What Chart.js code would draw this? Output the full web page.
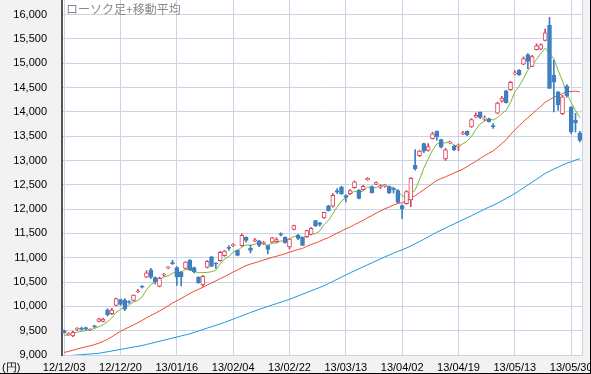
<!DOCTYPE html>
<html>
<head>
<meta charset="utf-8">
<script src="https://cdn.jsdelivr.net/npm/chart.js@4.4.1/dist/chart.umd.min.js"></script>
<style>
    body { margin: 0; background: #fff; }
    #wrap { position: relative; width: 591px; height: 374px; }
    #title { position: absolute; left: 66px; top: 0px; font: 12px "Noto Sans CJK JP"; color: #888; }
    #unit { position: absolute; left: 2px; top: 360px; font: 11px "Liberation Sans"; color: #000; }
</style>
</head>
<body>
<div id="wrap">
    <canvas id="chart" width="591" height="374"></canvas>
    <div id="title">ローソク足+移動平均</div>
    <div id="unit">(円)</div>
</div>
<script>
// trading days, Dec 2012 - Jun 2013
const dec = ['03','04','05','06','07','10','11','12','13','14','17','18','19','20','21','25','26','27','28'];
const jan = ['04','07','08','09','10','11','15','16','17','18','21','22','23','24','25','28','29','30','31'];
const feb = ['01','04','05','06','07','08','12','13','14','15','18','19','20','21','22','25','26','27','28'];
const mar = ['01','04','05','06','07','08','11','12','13','14','15','18','19','21','22','25','26','27','28','29'];
const apr = ['01','02','03','04','05','08','09','10','11','12','15','16','17','18','19','22','23','24','25','26','30'];
const may = ['01','02','07','08','09','10','13','14','15','16','17','20','21','22','23','24','27','28','29','30','31'];
const jun = ['03'];

const tickDates = ['12/12/03', '12/12/20', '13/01/16', '13/02/04', '13/02/22',
    '13/03/13', '13/04/02', '13/04/19', '13/05/13', '13/05/30'];
const yTicks = [9000, 9500, 10000, 10500, 11000, 11500, 12000, 12500,
    13000, 13500, 14000, 14500, 15000, 15500, 16000];

const opens = [
    9500, 9420, 9390, 9530, 9555, 9565, 9515, 9595, 9690, 9690,
    9930, 9850, 10020, 10140, 10130, 10100, 10120, 10300, 10410, 10600,
    10750, 10590, 10410, 10640, 10790, 10890, 10800, 10700, 10780, 10950,
    10800, 10600, 10440, 10800, 11020, 10890, 10940, 11045, 11210, 11250,
    11150, 11250, 11420, 11200, 11340, 11350, 11295, 11250, 11320, 11330,
    11490, 11420, 11220, 11580, 11460, 11420, 11435, 11480, 11765, 11720,
    11820, 12070, 12060, 12380, 12460, 12280, 12315, 12440, 12385, 12400,
    12600, 12465, 12510, 12450, 12470, 12465, 12420, 12383, 12075, 12110,
    12190, 12900, 13100, 13345, 13205, 13450, 13600, 13430, 13030, 13360,
    13295, 13300, 13550, 13600, 13690, 13890, 13990, 13850, 13850, 13720,
    13975, 14220, 14430, 14455, 14780, 14855, 14980, 15180, 14935, 15280,
    15290, 15470, 15780, 14750, 14410, 13960, 14525, 14100, 13825, 13570
];
const highs = [
    9510, 9460, 9490, 9565, 9575, 9575, 9540, 9610, 9760, 9760,
    9950, 9960, 10170, 10150, 10160, 10120, 10240, 10350, 10430, 10734,
    10780, 10610, 10600, 10680, 10820, 10950, 10820, 10720, 10920, 10960,
    10810, 10610, 10640, 10940, 11030, 10900, 11130, 11150, 11250, 11290,
    11160, 11490, 11430, 11260, 11400, 11360, 11340, 11260, 11420, 11410,
    11510, 11430, 11390, 11670, 11480, 11430, 11570, 11620, 11770, 11730,
    11940, 12080, 12320, 12420, 12470, 12300, 12400, 12580, 12400, 12490,
    12650, 12480, 12560, 12500, 12510, 12480, 12440, 12400, 12090, 12380,
    12650, 13225, 13210, 13360, 13350, 13580, 13610, 13440, 13250, 13400,
    13310, 13340, 13600, 13610, 13860, 13980, 14000, 13920, 13870, 13760,
    14200, 14320, 14440, 14630, 14850, 14870, 15130, 15200, 15160, 15400,
    15400, 15700, 15942, 15060, 14420, 14340, 14560, 14110, 13970, 13600
];
const lows = [
    9450, 9406, 9375, 9505, 9510, 9505, 9500, 9560, 9680, 9680,
    9800, 9830, 10010, 10020, 9910, 10060, 10110, 10280, 10380, 10590,
    10570, 10460, 10400, 10620, 10770, 10860, 10430, 10420, 10770, 10740,
    10690, 10470, 10410, 10790, 10820, 10780, 10930, 11030, 11150, 11230,
    11040, 11240, 11320, 11100, 11330, 11230, 11270, 11085, 11310, 11320,
    11450, 11300, 11180, 11570, 11370, 11250, 11420, 11470, 11640, 11650,
    11810, 11960, 12040, 12320, 12300, 12150, 12300, 12430, 12210, 12390,
    12590, 12330, 12500, 12420, 12450, 12320, 12330, 12130, 11805, 12100,
    12050, 12800, 13080, 13160, 13190, 13440, 13420, 13260, 13000, 13340,
    13200, 13200, 13530, 13510, 13680, 13880, 13860, 13820, 13790, 13660,
    13960, 14200, 14180, 14440, 14760, 14750, 14970, 14890, 14930, 15270,
    15280, 15460, 14483, 14000, 14030, 13940, 14300, 13550, 13585, 13380
];
const closes = [
    9458, 9432, 9468, 9545, 9527, 9533, 9525, 9581, 9743, 9737,
    9828, 9923, 10160, 10039, 9940, 10080, 10230, 10322, 10395, 10688,
    10599, 10508, 10578, 10652, 10801, 10879, 10600, 10609, 10913, 10747,
    10709, 10486, 10620, 10926, 10824, 10866, 11113, 11138, 11191, 11260,
    11046, 11463, 11357, 11153, 11369, 11251, 11307, 11173, 11407, 11372,
    11468, 11309, 11385, 11662, 11398, 11253, 11559, 11606, 11652, 11683,
    11932, 11968, 12283, 12349, 12314, 12239, 12381, 12560, 12220, 12468,
    12635, 12338, 12546, 12471, 12493, 12336, 12397, 12135, 12003, 12362,
    12634, 12833, 13192, 13192, 13288, 13549, 13485, 13275, 13221, 13382,
    13220, 13316, 13568, 13529, 13843, 13926, 13884, 13860, 13799, 13694,
    14180, 14285, 14191, 14607, 14782, 14758, 15096, 15037, 15138, 15360,
    15381, 15627, 14483, 14612, 14142, 14311, 14326, 13589, 13774, 13410
];

// moving averages (5, 25, 75 days)
const ma5 = [
    9407, 9409, 9441, 9470, 9486, 9501, 9520, 9542, 9582, 9624,
    9683, 9762, 9878, 9937, 9978, 10028, 10090, 10122, 10193, 10343,
    10447, 10502, 10554, 10605, 10628, 10684, 10702, 10708, 10760, 10750,
    10716, 10693, 10695, 10698, 10713, 10744, 10870, 10973, 11026, 11114,
    11150, 11220, 11263, 11256, 11278, 11319, 11287, 11251, 11301, 11302,
    11345, 11346, 11388, 11439, 11444, 11401, 11451, 11496, 11494, 11551,
    11686, 11768, 11904, 12043, 12169, 12231, 12313, 12369, 12343, 12374,
    12453, 12444, 12441, 12492, 12497, 12437, 12449, 12366, 12273, 12247,
    12306, 12393, 12605, 12843, 13028, 13211, 13341, 13358, 13364, 13382,
    13317, 13283, 13341, 13403, 13495, 13636, 13750, 13808, 13862, 13833,
    13883, 13964, 14030, 14191, 14409, 14525, 14687, 14856, 14962, 15078,
    15202, 15309, 15198, 15093, 14849, 14635, 14375, 14196, 14028, 13882
];
const ma25 = [
    9053, 9073, 9098, 9123, 9146, 9167, 9189, 9214, 9244, 9280,
    9323, 9373, 9433, 9488, 9533, 9575, 9618, 9665, 9712, 9765,
    9813, 9857, 9907, 9957, 10012, 10069, 10115, 10161, 10216, 10264,
    10311, 10350, 10391, 10439, 10482, 10524, 10571, 10610, 10657, 10709,
    10748, 10797, 10839, 10869, 10896, 10922, 10954, 10978, 11008, 11031,
    11055, 11083, 11114, 11144, 11170, 11192, 11235, 11274, 11303, 11338,
    11380, 11414, 11460, 11507, 11549, 11596, 11633, 11681, 11724, 11768,
    11823, 11865, 11919, 11962, 12007, 12042, 12085, 12115, 12129, 12167,
    12223, 12274, 12337, 12399, 12463, 12527, 12588, 12628, 12663, 12705,
    12745, 12782, 12822, 12875, 12930, 12981, 13043, 13096, 13149, 13197,
    13271, 13346, 13428, 13533, 13629, 13714, 13805, 13879, 13957, 14039,
    14113, 14198, 14247, 14302, 14333, 14376, 14417, 14418, 14427, 14410
];
const ma75 = [
    8980, 8986, 8993, 9000, 9007, 9014, 9021, 9028, 9035, 9051,
    9067, 9083, 9099, 9115, 9131, 9147, 9163, 9179, 9195, 9217,
    9239, 9261, 9283, 9304, 9326, 9348, 9370, 9392, 9414, 9435,
    9464, 9494, 9523, 9553, 9582, 9611, 9641, 9670, 9704, 9738,
    9771, 9805, 9839, 9873, 9906, 9940, 9969, 9999, 10028, 10057,
    10086, 10116, 10145, 10180, 10215, 10250, 10285, 10320, 10355, 10390,
    10425, 10469, 10513, 10557, 10602, 10646, 10690, 10731, 10772, 10813,
    10854, 10895, 10936, 10976, 11017, 11055, 11094, 11130, 11163, 11201,
    11242, 11286, 11334, 11380, 11428, 11477, 11525, 11566, 11609, 11655,
    11696, 11738, 11781, 11823, 11865, 11909, 11954, 11998, 12040, 12078,
    12122, 12171, 12219, 12268, 12322, 12376, 12438, 12497, 12553, 12613,
    12673, 12734, 12778, 12824, 12862, 12906, 12944, 12974, 13009, 13036
];

const labels = [
    ...dec.map((d) => `12/12/${d}`),
    ...jan.map((d) => `13/01/${d}`),
    ...feb.map((d) => `13/02/${d}`),
    ...mar.map((d) => `13/03/${d}`),
    ...apr.map((d) => `13/04/${d}`),
    ...may.map((d) => `13/05/${d}`),
    ...jun.map((d) => `13/06/${d}`),
];

const UP = '#d9435c';
const DOWN = '#3f7fc0';
const GRID = '#cbd4e6';

const isUp = (i) => closes[i] >= opens[i];

const panelBg = {
    id: 'panelBg',
    beforeDraw(chart) {
        const { ctx, chartArea: a, width, height } = chart;
        ctx.save();
        ctx.fillStyle = '#f2f2f2';
        ctx.fillRect(0, 0, width, height);
        ctx.fillStyle = '#ffffff';
        ctx.fillRect(a.left, a.top, a.right - a.left, a.bottom - a.top);
        ctx.restore();
    },
    afterDraw(chart) {
        const { ctx, chartArea: a, width, height } = chart;
        ctx.save();
        ctx.strokeStyle = GRID;
        ctx.lineWidth = 1;
        ctx.beginPath();
        ctx.moveTo(a.right + 0.5, a.top);
        ctx.lineTo(a.right + 0.5, a.bottom);
        ctx.stroke();
        ctx.strokeStyle = '#000';
        ctx.beginPath();
        ctx.moveTo(width - 0.5, 0);
        ctx.lineTo(width - 0.5, height);
        ctx.moveTo(0, height - 0.5);
        ctx.lineTo(width, height - 0.5);
        ctx.stroke();
        ctx.restore();
    },
};

new Chart(document.getElementById('chart'), {
    type: 'bar',
    data: {
        labels: labels,
        datasets: [
            {
                type: 'bar',
                label: 'body',
                data: opens.map((o, i) => [o, closes[i]]),
                backgroundColor: opens.map((o, i) => (isUp(i) ? '#ffffff' : DOWN)),
                borderColor: opens.map((o, i) => (isUp(i) ? UP : DOWN)),
                borderWidth: 1,
                borderSkipped: false,
                barThickness: 4,
                minBarLength: 1,
                grouped: false,
                order: 1,
            },
            {
                type: 'bar',
                label: 'wick',
                data: lows.map((l, i) => [l, highs[i]]),
                backgroundColor: lows.map((l, i) => (isUp(i) ? UP : DOWN)),
                borderWidth: 0,
                barThickness: 1,
                grouped: false,
                order: 2,
            },
            {
                type: 'line',
                label: '5',
                data: ma5,
                borderColor: '#7ab833',
                borderWidth: 1,
                pointRadius: 0,
                order: 3,
            },
            {
                type: 'line',
                label: '25',
                data: ma25,
                borderColor: '#f04a2e',
                borderWidth: 1,
                pointRadius: 0,
                order: 4,
            },
            {
                type: 'line',
                label: '75',
                data: ma75,
                borderColor: '#1a9ad8',
                borderWidth: 1,
                pointRadius: 0,
                order: 5,
            },
        ],
    },
    options: {
        responsive: false,
        animation: false,
        layout: { padding: { left: 0, right: 9, top: 0, bottom: 0 } },
        plugins: {
            legend: { display: false },
            tooltip: { enabled: false },
        },
        scales: {
            x: {
                offset: true,
                grid: {
                    offset: false,
                    drawTicks: false,
                    color: (ctx) => (tickDates.includes(labels[ctx.index]) ? GRID : 'transparent'),
                },
                border: { color: GRID },
                ticks: {
                    autoSkip: false,
                    maxRotation: 0,
                    padding: 6,
                    color: '#000',
                    font: { family: 'Liberation Sans', size: 11 },
                    callback: (value, index) => (tickDates.includes(labels[index]) ? labels[index] : ''),
                },
                afterFit: (scale) => {
                    scale.height = 19;
                    scale.paddingLeft = 0;
                    scale.paddingRight = 0;
                },
            },
            y: {
                min: 9000,
                max: 16300,
                grid: { color: GRID, drawTicks: false },
                border: { color: '#555', width: 2 },
                ticks: {
                    autoSkip: false,
                    padding: 15,
                    color: '#000',
                    font: { family: 'Liberation Sans', size: 11 },
                    callback: (value) => value.toLocaleString('en-US'),
                },
                afterBuildTicks: (scale) => {
                    scale.ticks = yTicks.map((v) => ({ value: v }));
                },
                afterFit: (scale) => {
                    scale.width = 62;
                    scale.paddingTop = 0;
                    scale.paddingBottom = 0;
                },
            },
        },
    },
    plugins: [panelBg],
});
</script>
</body>
</html>
